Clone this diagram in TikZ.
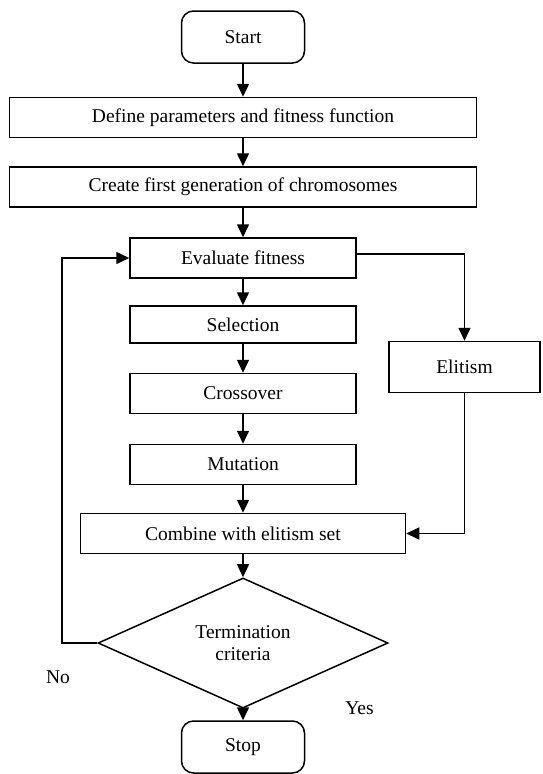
\documentclass[tikz,border=0pt]{standalone}
\usepackage{fontspec}
\setmainfont{Liberation Serif}
\usetikzlibrary{arrows.meta,shapes.geometric,positioning}

\begin{document}
\begin{tikzpicture}
	[->,>={Triangle[length=13pt,width=12pt]},line width=1.5pt,node distance=70pt,
		font=\fontsize{19.5}{22}\selectfont,
		box node/.style={rectangle,draw,minimum height=40pt,inner sep=0pt},
		end node/.style={rectangle,rounded corners=12pt,draw,minimum width=123pt,minimum height=52pt},
		test node/.style={diamond,draw,minimum width=290pt,minimum height=121pt,inner sep=0pt,align=center}]

	\useasboundingbox (0,0) rectangle (542pt,-774pt);

	\node[end node] (S) at (243pt,-37pt) {Start};
	\node[box node,minimum width=467pt] [below of=S,node distance=80.5pt] (P) {Define parameters and fitness function};
	\node[box node,minimum width=467pt] [below of=P,node distance=69.5pt] (C) {Create first generation of chromosomes};
	\node[box node,minimum width=226pt] [below of=C,node distance=71pt] (E) {Evaluate fitness};
	\node[box node,minimum width=226pt,minimum height=37pt] [below of=E,node distance=66.5pt] (Sel) {Selection};
	\node[box node,minimum width=226pt] [below of=Sel,node distance=69pt] (X) {Crossover};
	\node[box node,minimum width=226pt] [below of=X,node distance=71pt] (M) {Mutation};
	\node[box node,minimum width=325pt] [below of=M,node distance=69pt] (Comb) {Combine with elitism set};
	\node[test node] [below of=Comb,node distance=109.5pt] (T) {Termination\\criteria};
	\node[end node] [below of=T,node distance=104pt] (Stop) {Stop};
	\node[box node,minimum width=151pt,minimum height=51pt] (El) at (464.5pt,-367pt) {Elitism};
	% \node[box node] (El) [right of=Sel] {Elitism};

	\coordinate (loop) at (62pt,-643pt);
	\node (no) at (58pt,-677pt) {No};
	\node (yes) at (359.5pt,-708pt) {Yes};

	\path[]
	(S) edge (P)
	(P) edge (C)
	(C) edge (E)
	(E) edge (Sel)
	(Sel) edge (X)
	(X) edge (M)
	(M) edge (Comb)
	(Comb) edge (T)
	(T) edge (Stop)
	;

	\draw ([yshift=4pt]E.east) -| (El.north);
	\draw (El.south) |- (Comb.east);
	\draw (T.west) -- (loop) |- (E.west);

\end{tikzpicture}
\end{document}
